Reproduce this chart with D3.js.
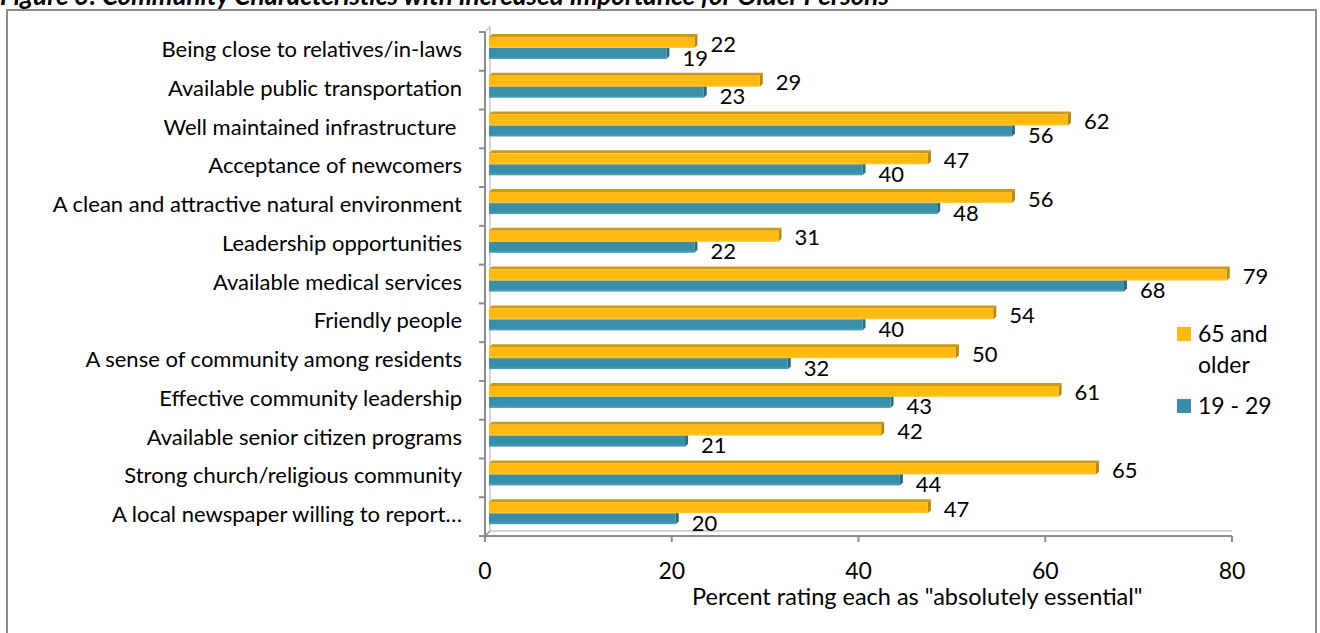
<!DOCTYPE html>
<html>
<head>
<meta charset="utf-8">
<script src="https://cdn.jsdelivr.net/npm/d3@7"></script>
<style>
  body { margin: 0; background: #fff; }
  text { font-family: Lato, "Open Sans", sans-serif; fill: #000; }
</style>
</head>
<body>
<div id="chart"></div>
<script>
var categories = [
    "Being close to relatives/in-laws",
    "Available public transportation",
    "Well maintained infrastructure ",
    "Acceptance of newcomers",
    "A clean and attractive natural environment",
    "Leadership opportunities",
    "Available medical services",
    "Friendly people",
    "A sense of community among residents",
    "Effective community leadership",
    "Available senior citizen programs",
    "Strong church/religious community",
    "A local newspaper willing to report\u2026"
];
var older = [22, 29, 62, 47, 56, 31, 79, 54, 50, 61, 42, 65, 47];
var young = [19, 23, 56, 40, 48, 22, 68, 40, 32, 43, 21, 44, 20];
var seriesNames = ["65 and older", "19 - 29"];
var xTicks = [0, 20, 40, 60, 80];

var width = 1320;
var height = 633;
var depth = 3;   // 3d offset of the bars
var wall = 5;    // 3d offset of the walls

var svg = d3.select("#chart").append("svg")
    .attr("width", width)
    .attr("height", height);

// title, cut at the top of the picture
svg.append("text")
    .attr("x", 0)
    .attr("y", 5)
    .style("font-size", "26px")
    .style("font-weight", "bold")
    .style("font-style", "italic")
    .text("Figure 3: Community Characteristics with Increased Importance for Older Persons");

// frame
svg.append("rect")
    .attr("x", 7)
    .attr("y", 10)
    .attr("width", 1309)
    .attr("height", 640)
    .attr("fill", "none")
    .attr("stroke", "#8c8c8c")
    .attr("stroke-width", 2);

var x = d3.scaleLinear()
    .domain([0, 80])
    .range([485, 1232]);

var y = d3.scaleBand()
    .domain(categories)
    .range([32, 536]);

var ySeries = d3.scaleBand()
    .domain(seriesNames)
    .range([5, 27]);

var axisColor = "#8c8c8c";
var g = svg.append("g");

// walls
var x0 = x(0), yTop = y.range()[0], yBot = y.range()[1];
g.append("path")
    .attr("d", "M" + x0 + "," + yTop + "L" + (x0 + wall) + "," + (yTop - wall) +
        "L" + (x0 + wall) + "," + (yBot - wall) + "L" + x(80) + "," + (yBot - wall))
    .attr("fill", "none")
    .attr("stroke", "#c8c8c8")
    .attr("stroke-width", 1.5);
g.append("path")
    .attr("d", "M" + x0 + "," + yBot + "L" + (x0 + wall) + "," + (yBot - wall))
    .attr("fill", "none")
    .attr("stroke", axisColor)
    .attr("stroke-width", 1.5);

// y axis with ticks at band edges
g.append("line")
    .attr("x1", x0).attr("x2", x0)
    .attr("y1", yTop).attr("y2", yBot + 5)
    .attr("stroke", axisColor)
    .attr("stroke-width", 2);
g.selectAll(".ytick")
    .data(categories.concat(["end"]))
    .enter().append("line")
    .attr("class", "ytick")
    .attr("x1", x0 - 6).attr("x2", x0)
    .attr("y1", function (d, i) { return yTop + i * y.step(); })
    .attr("y2", function (d, i) { return yTop + i * y.step(); })
    .attr("stroke", axisColor)
    .attr("stroke-width", 2);

// x axis
g.append("line")
    .attr("x1", x0).attr("x2", x(80))
    .attr("y1", yBot).attr("y2", yBot)
    .attr("stroke", axisColor)
    .attr("stroke-width", 2);
g.selectAll(".xtick")
    .data(xTicks)
    .enter().append("line")
    .attr("class", "xtick")
    .attr("x1", x).attr("x2", x)
    .attr("y1", yBot).attr("y2", yBot + 6)
    .attr("stroke", axisColor)
    .attr("stroke-width", 2);
g.selectAll(".xlabel")
    .data(xTicks)
    .enter().append("text")
    .attr("class", "xlabel")
    .attr("x", x)
    .attr("y", 579)
    .attr("text-anchor", "middle")
    .style("font-size", "23px")
    .text(function (d) { return d; });

svg.append("text")
    .attr("x", 692)
    .attr("y", 605)
    .style("font-size", "23.5px")
    .text("Percent rating each as \"absolutely essential\"");

// category labels
g.selectAll(".cat")
    .data(categories)
    .enter().append("text")
    .attr("class", "cat")
    .attr("x", 462)
    .attr("y", function (d) { return y(d) + 25; })
    .attr("text-anchor", "end")
    .style("font-size", "22px")
    .style("white-space", "pre")
    .text(function (d) { return d; });

// gradients
var defs = svg.append("defs");
function grad(id, c1, c2) {
    var lg = defs.append("linearGradient")
        .attr("id", id)
        .attr("x1", "0%").attr("y1", "0%")
        .attr("x2", "0%").attr("y2", "100%");
    lg.append("stop").attr("offset", "0%").attr("stop-color", c1);
    lg.append("stop").attr("offset", "75%").attr("stop-color", c1);
    lg.append("stop").attr("offset", "100%").attr("stop-color", c2);
}
grad("gOrange", "#ffb90f", "#ffc93c");
grad("gBlue", "#3a8fa8", "#4ea3bb");

var styles = [
    { name: seriesNames[0], values: older, front: "url(#gOrange)", top: "#cc9a12", side: "#b8870c", legend: "#ffb90f" },
    { name: seriesNames[1], values: young, front: "url(#gBlue)", top: "#2f7a90", side: "#296b7e", legend: "#3a8fa8" }
];

function drawBars(s, labelDy) {
    var bars = g.selectAll(".bar-" + s.legend.slice(1))
        .data(s.values)
        .enter().append("g");

    bars.each(function (v, i) {
        var b = d3.select(this);
        var bx0 = x(0) + 4;
        var bx1 = x(v) + 4;
        var by = y(categories[i]) + ySeries(s.name);
        var bh = ySeries.bandwidth();
        b.append("path")
            .attr("d", "M" + bx0 + "," + by + "L" + (bx0 + depth) + "," + (by - depth) +
                "L" + (bx1 + depth) + "," + (by - depth) + "L" + bx1 + "," + by + "Z")
            .attr("fill", s.top);
        b.append("path")
            .attr("d", "M" + bx1 + "," + by + "L" + (bx1 + depth) + "," + (by - depth) +
                "L" + (bx1 + depth) + "," + (by + bh - depth) + "L" + bx1 + "," + (by + bh) + "Z")
            .attr("fill", s.side);
        b.append("rect")
            .attr("x", bx0)
            .attr("y", by)
            .attr("width", bx1 - bx0)
            .attr("height", bh)
            .attr("fill", s.front);
        b.append("text")
            .attr("x", bx1 + 16)
            .attr("y", by + bh / 2 + labelDy + 8)
            .style("font-size", "22px")
            .text(v);
    });
}

// the lower (blue) bars first, the orange ones sit in front
drawBars(styles[1], 4);
drawBars(styles[0], 1);

// legend
var legend = svg.append("g")
    .attr("transform", "translate(1177,0)");
legend.append("rect")
    .attr("x", 0).attr("y", 327)
    .attr("width", 14).attr("height", 14)
    .attr("fill", styles[0].legend);
legend.append("text")
    .attr("x", 21).attr("y", 342)
    .style("font-size", "23px")
    .text("65 and");
legend.append("text")
    .attr("x", 21).attr("y", 373)
    .style("font-size", "23px")
    .text("older");
legend.append("rect")
    .attr("x", 0).attr("y", 399)
    .attr("width", 14).attr("height", 14)
    .attr("fill", styles[1].legend);
legend.append("text")
    .attr("x", 21).attr("y", 414)
    .style("font-size", "23px")
    .text("19 - 29");
</script>
</body>
</html>
